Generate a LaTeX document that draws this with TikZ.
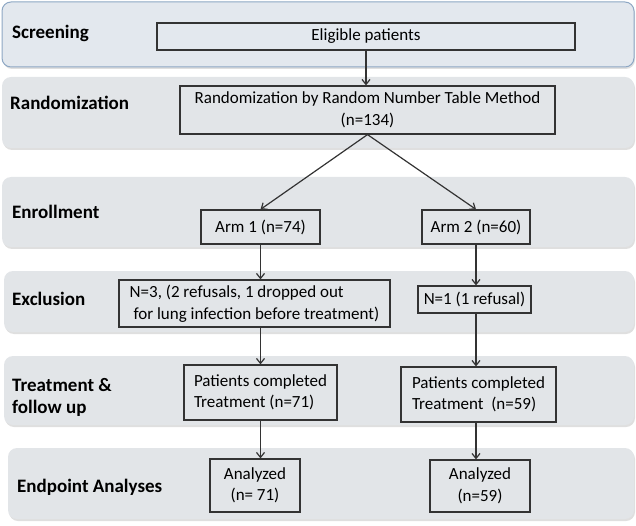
\documentclass[tikz,border=0pt]{standalone}
\usepackage{fontspec}
\setmainfont{Carlito}
\usetikzlibrary{arrows.meta}
\usetikzlibrary{shadows}
\definecolor{bandgray}{HTML}{E2E5E8}
\definecolor{bandblue}{HTML}{E3E8EE}
\definecolor{bandedge}{HTML}{8DA7C4}
\definecolor{linegray}{HTML}{333333}
\tikzset{
	band/.style={fill=bandgray, draw=none, rounded corners=9pt,
		drop shadow={shadow xshift=1pt, shadow yshift=-2pt, opacity=0.25}},
	stage/.style={anchor=west, align=left, inner sep=0pt,
		font=\fontsize{19}{22}\selectfont\bfseries},
	box/.style={draw=linegray, line width=1.2pt, inner sep=0pt, align=center,
		font=\fontsize{17}{21.5}\selectfont},
	>={Straight Barb[length=5pt, width=8pt, line width=1.2pt]}
}
\newcommand{\drawband}[5]{   % x1, y1, y2, param, name
	\draw[band, #4] (#1, #2) rectangle (634, #3);
	\coordinate (#5) at (#1, #2);
}

\begin{document}
\begin{tikzpicture}[x=1pt, y=-1pt]
\useasboundingbox (0, 0) rectangle (636, 526);

% stage bands
\drawband{2}{2}{67}{fill=bandblue, draw=bandedge, line width=1pt}{bscreen}
\drawband{2}{77}{148}{}{brand}
\drawband{2}{177}{247}{}{benroll}
\drawband{4}{271}{332}{}{bexcl}
\drawband{4}{356}{425}{}{btreat}
\drawband{8}{448}{519}{}{bend}

% stage labels
\node[stage] (lscreen) at (12, 33) {Screening};
\node[stage] (lrand) at (10, 103) {Randomization};
\node[stage] (lenroll) at (12, 212) {Enrollment};
\node[stage] (lexcl) at (12, 299) {Exclusion};
\node[stage] (ltreat) at (12, 397) {Treatment \&\\follow up};
\node[stage] (lend) at (17, 487) {Endpoint Analyses};

% boxes
\node[box, minimum width=418, minimum height=27] (elig) at (366, 36.5) {Eligible patients};
\node[box, minimum width=375, minimum height=48] (rand) at (367.5, 110)
	{Randomization by Random Number Table Method\\(n=134)};
\node[box, minimum width=119, minimum height=34] (arma) at (260.5, 227) {Arm 1 (n=74)};
\node[box, minimum width=108, minimum height=34] (armb) at (476, 227) {Arm 2 (n=60)};
\node[box, minimum width=271, minimum height=47, align=left] (exa) at (254.5, 303.5)
	{N=3, (2 refusals, 1 dropped out\\\ for lung infection before treatment)};
\node[box, minimum width=113, minimum height=27] (exb) at (474.5, 299.5) {N=1 (1 refusal)};
\node[box, minimum width=153, minimum height=55, align=left] (tra) at (260.5, 392.5)
	{Patients completed\\Treatment (n=71)};
\node[box, minimum width=155, minimum height=55, align=left] (trb) at (478.5, 394.5)
	{Patients completed\\Treatment \ (n=59)};
\node[box, minimum width=90, minimum height=53] (ana) at (255, 485.5) {Analyzed\\(n= 71)};
\node[box, minimum width=100, minimum height=52] (anb) at (480, 486) {Analyzed\\(n=59)};

% arrows
\draw[->, linegray, line width=1.2pt] (elig.south) -- (elig.south |- rand.north);
\draw[->, linegray, line width=1.2pt] (rand.south) -- (arma.north);
\draw[->, linegray, line width=1.2pt] (rand.south) -- (armb.north);
\draw[->, linegray, line width=1.2pt] (arma.south) -- (arma.south |- exa.north);
\draw[->, linegray, line width=1.2pt] (armb.south) -- (armb.south |- exb.north);
\draw[->, linegray, line width=1.2pt] (arma.south |- exa.south) -- (arma.south |- tra.north);
\draw[->, linegray, line width=1.2pt] (armb.south |- exb.south) -- (armb.south |- trb.north);
\draw[->, linegray, line width=1.2pt] (arma.south |- tra.south) -- (arma.south |- ana.north);
\draw[->, linegray, line width=1.2pt] (armb.south |- trb.south) -- (armb.south |- anb.north);
\end{tikzpicture}
\end{document}
